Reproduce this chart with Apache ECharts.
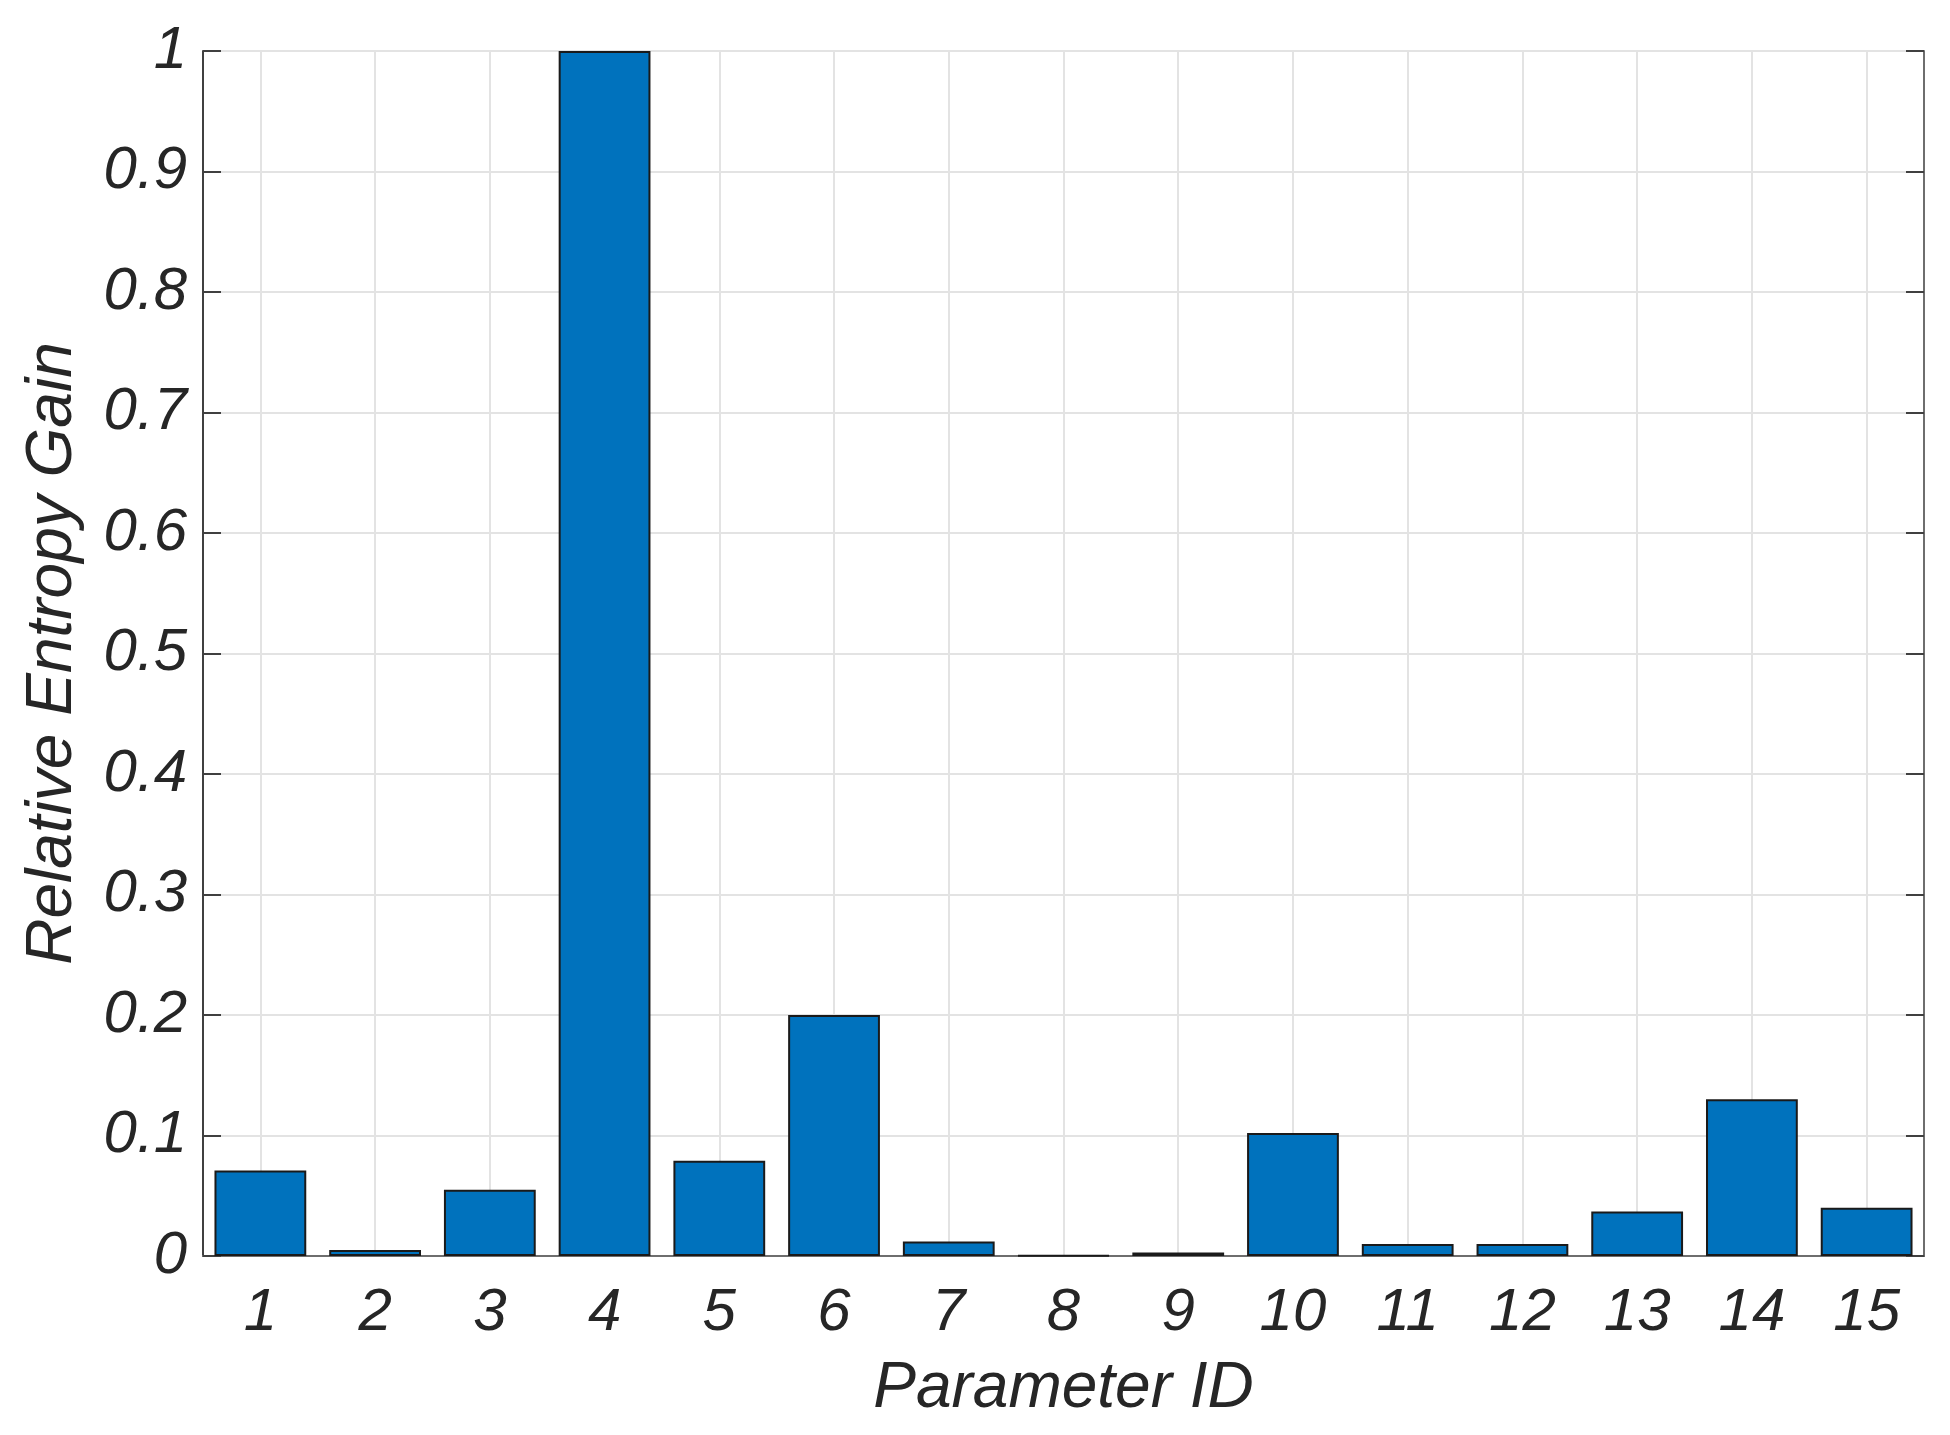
<!DOCTYPE html>
<html>
<head>
<meta charset="utf-8">
<title>Relative Entropy Gain</title>
<script src="https://cdn.jsdelivr.net/npm/echarts@6/dist/echarts.min.js"></script>
<style>
  html, body { margin: 0; padding: 0; background: #fff; }
  #main { width: 1950px; height: 1435px; }
</style>
</head>
<body>
<div id="main"></div>
<script>
// parameter ids on the x axis
var paramIds = ['1', '2', '3', '4', '5', '6', '7', '8', '9', '10', '11', '12', '13', '14', '15']
// relative entropy gain
var entropyGain = [0.071, 0.005, 0.055, 1.0, 0.079, 0.2, 0.012, 0.0006, 0.003, 0.102, 0.010, 0.010, 0.037, 0.130, 0.040]

var textColor = '#262626'
var frameColor = '#404040'
var fontFamily = '"Liberation Sans", Arial, sans-serif'

var chart = echarts.init(document.getElementById('main'))

var option = {
  animation: false,
  backgroundColor: '#fff',
  grid: {
    left: 203,
    right: 26,
    top: 51,
    bottom: 179
  },
  xAxis: [{
    type: 'category',
    data: paramIds,
    position: 'bottom',
    name: 'Parameter ID',
    nameLocation: 'middle',
    nameGap: 101,
    nameTextStyle: {
      color: textColor,
      fontSize: 64,
      fontStyle: 'italic',
      fontFamily: fontFamily
    },
    axisLine: { lineStyle: { color: frameColor, width: 2 } },
    axisTick: { inside: true, alignWithLabel: true, length: 18, lineStyle: { color: frameColor, width: 2 } },
    axisLabel: {
      color: textColor,
      fontSize: 60,
      fontStyle: 'italic',
      fontFamily: fontFamily,
      margin: 27
    },
    splitLine: { show: true, alignWithLabel: true, lineStyle: { color: '#e3e3e3', width: 2 } }
  }, {
    type: 'category',
    data: paramIds,
    position: 'top',
    axisLine: { lineStyle: { color: '#6e6e6e', width: 2 } },
    axisTick: { inside: true, alignWithLabel: true, length: 18, lineStyle: { color: frameColor, width: 2 } },
    axisLabel: { show: false },
    splitLine: { show: false }
  }],
  yAxis: [{
    type: 'value',
    min: 0,
    max: 1,
    interval: 0.1,
    position: 'left',
    name: 'Relative Entropy Gain',
    nameLocation: 'middle',
    nameGap: 118,
    nameTextStyle: {
      color: textColor,
      fontSize: 64,
      fontStyle: 'italic',
      fontFamily: fontFamily
    },
    axisLine: { show: true, lineStyle: { color: frameColor, width: 2 } },
    axisTick: { show: true, inside: true, length: 18, lineStyle: { color: frameColor, width: 2 } },
    axisLabel: {
      color: textColor,
      fontSize: 60,
      fontStyle: 'italic',
      fontFamily: fontFamily,
      margin: 16
    },
    splitLine: { show: true, lineStyle: { color: '#e3e3e3', width: 2 } }
  }, {
    type: 'value',
    min: 0,
    max: 1,
    interval: 0.1,
    position: 'right',
    axisLine: { show: true, lineStyle: { color: '#6e6e6e', width: 2 } },
    axisTick: { show: true, inside: true, length: 18, lineStyle: { color: frameColor, width: 2 } },
    axisLabel: { show: false },
    splitLine: { show: false }
  }],
  series: [{
    name: 'Relative Entropy Gain',
    type: 'bar',
    xAxisIndex: 0,
    yAxisIndex: 0,
    data: entropyGain,
    barCategoryGap: '20%',
    itemStyle: {
      color: '#0072BD',
      borderColor: '#1a1a1a',
      borderWidth: 2
    }
  }]
}

chart.setOption(option)
</script>
</body>
</html>
